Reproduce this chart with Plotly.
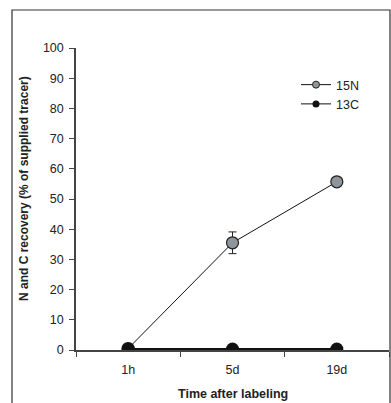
import plotly.graph_objects as go

categories = ["1h", "5d", "19d"]
n15_values = [0.5, 35.5, 55.7]
n15_errors = [0.3, 3.6, 1.2]
c13_values = [0.3, 0.3, 0.3]
y_ticks = [0, 10, 20, 30, 40, 50, 60, 70, 80, 90, 100]

FONT = "Liberation Sans, Arial, sans-serif"
TXT = "#222222"
AX = "#444444"

fig = go.Figure()
fig.add_trace(go.Scatter(
    x=categories, y=n15_values, mode="lines+markers", showlegend=False,
    line=dict(color="#111111", width=1),
    marker=dict(size=12, color="#8f969b", line=dict(color="#222222", width=1.2)),
    error_y=dict(type="data", array=n15_errors, color="#222222", thickness=1, width=4),
))
fig.add_trace(go.Scatter(
    x=categories, y=c13_values, mode="lines+markers", showlegend=False,
    line=dict(color="#111111", width=2),
    marker=dict(size=13, color="#111111"),
))
fig.add_trace(go.Scatter(
    x=[None], y=[None], mode="lines+markers", name="15N",
    line=dict(color="#111111", width=1),
    marker=dict(size=7, color="#8f969b", line=dict(color="#222222", width=1)),
))
fig.add_trace(go.Scatter(
    x=[None], y=[None], mode="lines+markers", name="13C",
    line=dict(color="#111111", width=1),
    marker=dict(size=7, color="#111111"),
))

L, R, T, B = 76, 2, 48, 53
W, H = 391, 403
pw, ph = W - L - R, H - T - B

def px_x(x):
    return (x - L) / pw

def px_y(y):
    return 1 - (y - T) / ph

fig.update_layout(
    width=W, height=H,
    margin=dict(l=L, r=R, t=T, b=B),
    paper_bgcolor="white", plot_bgcolor="white",
    font=dict(family=FONT, size=12, color=TXT),
    legend=dict(x=px_x(296), y=px_y(70), xanchor="left", yanchor="top",
                bgcolor="rgba(0,0,0,0)", font=dict(size=12.5, color=TXT),
                itemwidth=30, tracegroupgap=0),
    xaxis=dict(
        type="category", range=[-0.5, 2.5],
        showgrid=False, zeroline=False,
        showline=True, linecolor=AX, linewidth=1.5,
        ticks="outside", ticklen=5, tickcolor=AX,
        tickson="boundaries", ticklabelstandoff=7,
        tickfont=dict(size=12.5, color=TXT),
    ),
    yaxis=dict(
        range=[0, 100], tickvals=y_ticks,
        showgrid=False, zeroline=False,
        showline=True, linecolor=AX, linewidth=1.5,
        ticks="outside", ticklen=5, tickcolor=AX,
        ticklabelstandoff=3,
        tickfont=dict(size=12.5, color=TXT),
    ),
    annotations=[
        dict(text="<b>Time after labeling</b>", xref="paper", yref="paper",
             x=px_x(233), y=px_y(394), xanchor="center", yanchor="middle",
             showarrow=False, font=dict(size=12.5, color=TXT)),
        dict(text="<b>N and C recovery (% of supplied tracer)</b>", xref="paper", yref="paper",
             x=px_x(24), y=px_y(189), xanchor="center", yanchor="middle", textangle=-90,
             showarrow=False, font=dict(size=12, color=TXT)),
    ],
    shapes=[
        dict(type="rect", xref="paper", yref="paper",
             x0=px_x(12), x1=px_x(390), y0=px_y(420), y1=px_y(10),
             line=dict(color="#333333", width=1.2), fillcolor="rgba(0,0,0,0)", layer="below"),
    ],
)

fig.write_html(
    "out.html",
    config={"displayModeBar": False},
    post_script="document.body.style.margin='0';document.body.style.overflow='hidden';",
)
